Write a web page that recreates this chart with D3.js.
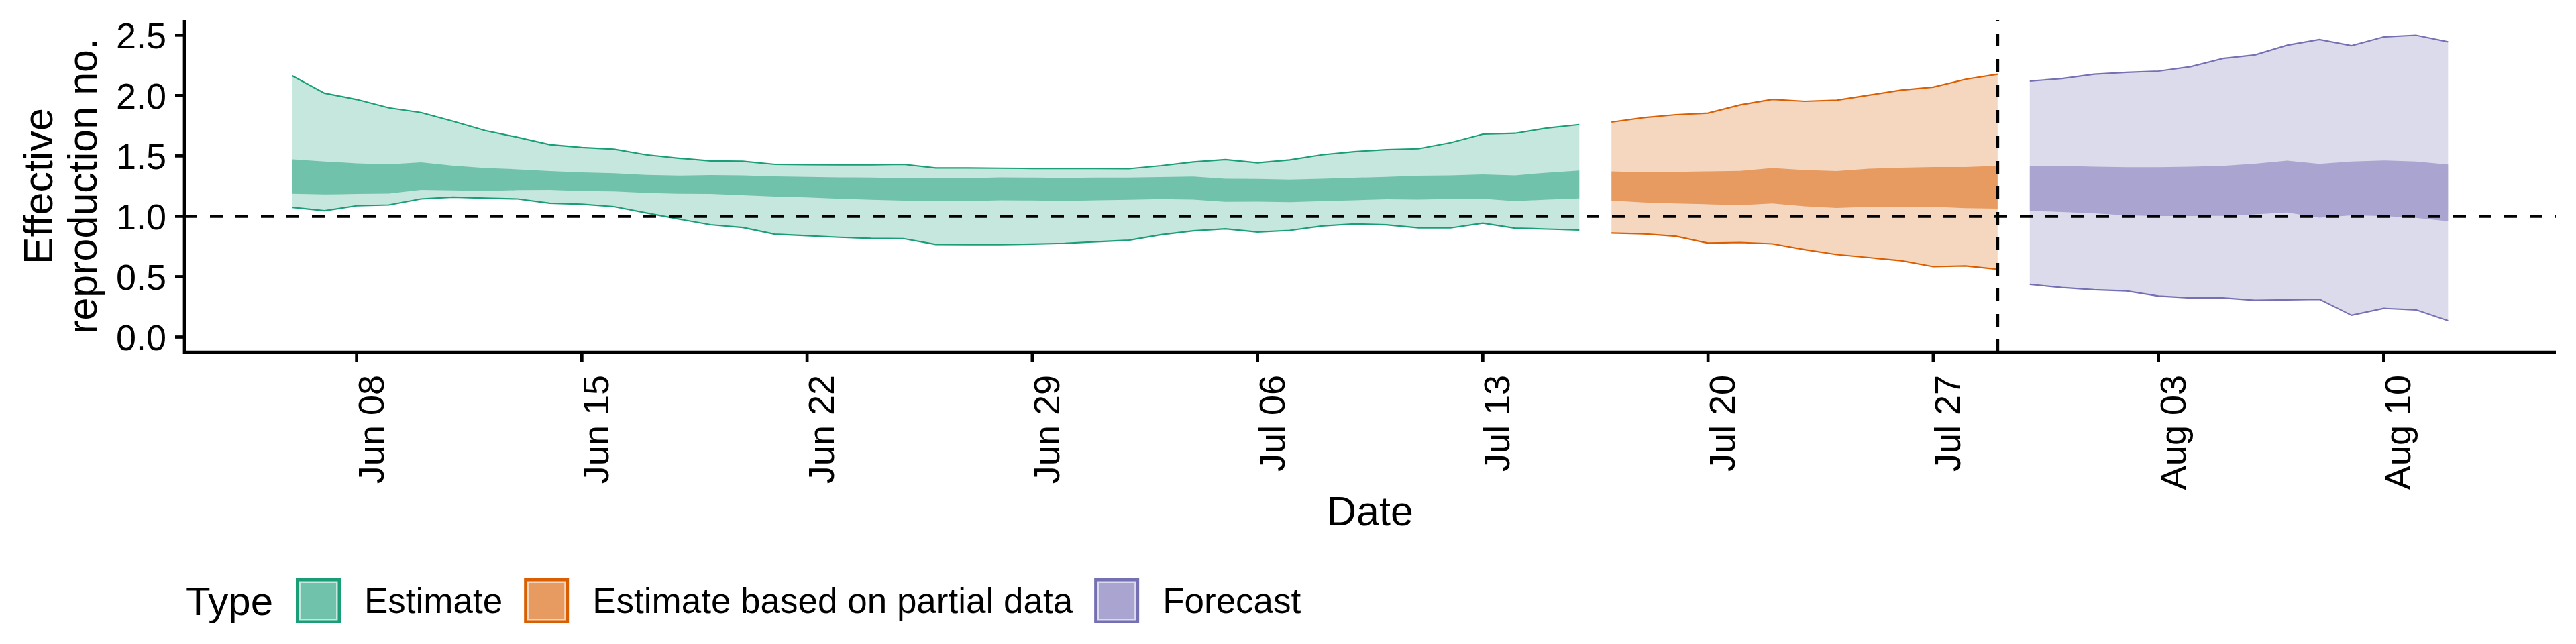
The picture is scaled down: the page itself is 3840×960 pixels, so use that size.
<!DOCTYPE html>
<html>
<head>
<meta charset="utf-8">
<script src="https://cdn.jsdelivr.net/npm/d3@7"></script>
<style>
  body { margin: 0; background: #fff; }
  text { font-family: "Liberation Sans", Arial, Helvetica, sans-serif; fill: #000; }
</style>
</head>
<body>
<script>
// ---- data ----
const types = ['Estimate', 'Estimate based on partial data', 'Forecast']
const colours = ['#1B9E77', '#D95F02', '#7570B3']
const startDates = ['2020-06-06', '2020-07-17', '2020-07-30']

// Estimate: Jun 06 - Jul 16
const estUpper90 = [2.163, 2.019, 1.967, 1.898, 1.859, 1.787, 1.709, 1.654, 1.593, 1.570,
                    1.556, 1.509, 1.481, 1.458, 1.456, 1.430, 1.428, 1.426, 1.426, 1.430,
                    1.400, 1.400, 1.398, 1.396, 1.396, 1.396, 1.394, 1.419, 1.450, 1.470,
                    1.443, 1.467, 1.509, 1.535, 1.552, 1.559, 1.609, 1.680, 1.687, 1.731, 1.759]
const estLower90 = [1.074, 1.046, 1.087, 1.094, 1.144, 1.159, 1.150, 1.144, 1.109, 1.100,
                    1.080, 1.028, 0.978, 0.930, 0.907, 0.852, 0.839, 0.826, 0.817, 0.815,
                    0.767, 0.765, 0.765, 0.770, 0.776, 0.789, 0.802, 0.848, 0.880, 0.896,
                    0.870, 0.883, 0.920, 0.937, 0.930, 0.904, 0.904, 0.943, 0.902, 0.894, 0.887]
const estUpper50 = [1.472, 1.454, 1.439, 1.430, 1.446, 1.419, 1.400, 1.389, 1.374, 1.363,
                    1.357, 1.343, 1.337, 1.341, 1.339, 1.330, 1.326, 1.322, 1.320, 1.315,
                    1.313, 1.315, 1.322, 1.320, 1.317, 1.320, 1.320, 1.324, 1.328, 1.311,
                    1.309, 1.304, 1.311, 1.319, 1.326, 1.335, 1.339, 1.346, 1.339, 1.361, 1.378]
const estLower50 = [1.187, 1.181, 1.185, 1.189, 1.219, 1.215, 1.209, 1.217, 1.219, 1.209,
                    1.207, 1.194, 1.187, 1.185, 1.174, 1.163, 1.156, 1.146, 1.137, 1.130,
                    1.126, 1.126, 1.133, 1.131, 1.128, 1.133, 1.137, 1.143, 1.139, 1.120,
                    1.122, 1.117, 1.126, 1.133, 1.141, 1.139, 1.144, 1.146, 1.126, 1.139, 1.148]

// Estimate based on partial data: Jul 17 - Jul 29
const partUpper90 = [1.780, 1.817, 1.841, 1.854, 1.922, 1.968, 1.952, 1.961, 2.003, 2.044, 2.069, 2.134, 2.176]
const partLower90 = [0.861, 0.854, 0.835, 0.778, 0.783, 0.772, 0.724, 0.683, 0.658, 0.632, 0.583, 0.589, 0.562]
const partUpper50 = [1.372, 1.363, 1.367, 1.372, 1.376, 1.400, 1.383, 1.374, 1.394, 1.402, 1.408, 1.408, 1.417]
const partLower50 = [1.130, 1.115, 1.107, 1.100, 1.093, 1.107, 1.083, 1.069, 1.079, 1.079, 1.079, 1.068, 1.064]

// Forecast: Jul 30 - Aug 12
const fcUpper90 = [2.119, 2.140, 2.176, 2.191, 2.202, 2.239, 2.307, 2.336, 2.416, 2.463, 2.412, 2.485, 2.499, 2.444]
const fcLower90 = [0.437, 0.410, 0.392, 0.382, 0.339, 0.324, 0.324, 0.305, 0.309, 0.313, 0.181, 0.238, 0.226, 0.136]
const fcUpper50 = [1.417, 1.417, 1.411, 1.406, 1.406, 1.410, 1.418, 1.436, 1.460, 1.434, 1.454, 1.462, 1.454, 1.428]
const fcLower50 = [1.045, 1.036, 1.024, 1.008, 1.003, 1.002, 1.004, 1.016, 1.032, 0.989, 1.008, 1.002, 0.987, 0.959]

const xTickDates = ['2020-06-08', '2020-06-15', '2020-06-22', '2020-06-29', '2020-07-06',
                    '2020-07-13', '2020-07-20', '2020-07-27', '2020-08-03', '2020-08-10']
const xTickLabels = ['Jun 08', 'Jun 15', 'Jun 22', 'Jun 29', 'Jul 06',
                     'Jul 13', 'Jul 20', 'Jul 27', 'Aug 03', 'Aug 10']
const yTicks = [0, 0.5, 1, 1.5, 2, 2.5]
const yTickLabels = ['0.0', '0.5', '1.0', '1.5', '2.0', '2.5']

// ---- layout ----
const width = 3840
const height = 960
const panel = {left: 275, right: 3810, top: 30, bottom: 525}
const parseDate = d3.utcParse('%Y-%m-%d')

const series = [
    {upper90: estUpper90, lower90: estLower90, upper50: estUpper50, lower50: estLower50},
    {upper90: partUpper90, lower90: partLower90, upper50: partUpper50, lower50: partLower50},
    {upper90: fcUpper90, lower90: fcLower90, upper50: fcUpper50, lower50: fcLower50}
]
series.forEach(function(s, k) {
    s.type = types[k]
    s.colour = colours[k]
    const start = parseDate(startDates[k])
    s.rows = s.upper90.map(function(v, i) {
        return {date: d3.utcDay.offset(start, i), u90: v, l90: s.lower90[i], u50: s.upper50[i], l50: s.lower50[i]}
    })
})

const allRows = series.flatMap(s => s.rows)
const dateExtent = d3.extent(allRows, d => d.date)
const dPad = (dateExtent[1] - dateExtent[0]) * 0.05
const yMax = d3.max(allRows, d => d.u90)
const yPad = yMax * 0.05

const x = d3.scaleUtc()
    .domain([new Date(+dateExtent[0] - dPad), new Date(+dateExtent[1] + dPad)])
    .range([panel.left, panel.right])
const y = d3.scaleLinear()
    .domain([0 - yPad, yMax + yPad])
    .range([panel.bottom, panel.top])

const svg = d3.select('body')
    .append('svg')
    .attr('width', width)
    .attr('height', height)

svg.append('rect').attr('width', width).attr('height', height).attr('fill', '#fff')

// ---- ribbons ----
const area90 = d3.area().x(d => x(d.date)).y0(d => y(d.l90)).y1(d => y(d.u90))
const area50 = d3.area().x(d => x(d.date)).y0(d => y(d.l50)).y1(d => y(d.u50))
const upLine = d3.line().x(d => x(d.date)).y(d => y(d.u90))
const loLine = d3.line().x(d => x(d.date)).y(d => y(d.l90))

const bands = svg.append('g')
series.forEach(function(s) {
    bands.append('path')
        .attr('d', area90(s.rows))
        .attr('fill', s.colour)
        .attr('fill-opacity', 0.25)
    bands.append('path')
        .attr('d', upLine(s.rows))
        .attr('fill', 'none')
        .attr('stroke', s.colour)
        .attr('stroke-width', 2.2)
    bands.append('path')
        .attr('d', loLine(s.rows))
        .attr('fill', 'none')
        .attr('stroke', s.colour)
        .attr('stroke-width', 2.2)
})
series.forEach(function(s) {
    bands.append('path')
        .attr('d', area50(s.rows))
        .attr('fill', s.colour)
        .attr('fill-opacity', 0.5)
})

// ---- reference lines ----
svg.append('line')
    .attr('x1', panel.left).attr('x2', panel.right)
    .attr('y1', y(1)).attr('y2', y(1))
    .attr('stroke', '#000')
    .attr('stroke-width', 4.7)
    .attr('stroke-dasharray', '19 19')

const lastPartial = series[1].rows[series[1].rows.length - 1].date
svg.append('line')
    .attr('x1', x(lastPartial)).attr('x2', x(lastPartial))
    .attr('y1', panel.bottom).attr('y2', panel.top)
    .attr('stroke', '#000')
    .attr('stroke-width', 4.7)
    .attr('stroke-dasharray', '19 19')

// ---- axes ----
const axes = svg.append('g')
axes.append('line')
    .attr('x1', panel.left).attr('x2', panel.left)
    .attr('y1', panel.top).attr('y2', panel.bottom + 2)
    .attr('stroke', '#000').attr('stroke-width', 4.7)
axes.append('line')
    .attr('x1', panel.left - 2).attr('x2', panel.right)
    .attr('y1', panel.bottom).attr('y2', panel.bottom)
    .attr('stroke', '#000').attr('stroke-width', 4.7)

axes.selectAll('.ytick')
    .data(yTicks)
    .enter()
    .append('line')
    .attr('x1', panel.left - 14).attr('x2', panel.left)
    .attr('y1', d => y(d)).attr('y2', d => y(d))
    .attr('stroke', '#000').attr('stroke-width', 4.7)

axes.selectAll('.ylab')
    .data(yTicks)
    .enter()
    .append('text')
    .attr('x', panel.left - 27)
    .attr('y', d => y(d))
    .attr('dy', '0.36em')
    .attr('text-anchor', 'end')
    .style('font-size', '54px')
    .text((d, i) => yTickLabels[i])

const tickDates = xTickDates.map(parseDate)
axes.selectAll('.xtick')
    .data(tickDates)
    .enter()
    .append('line')
    .attr('x1', d => x(d)).attr('x2', d => x(d))
    .attr('y1', panel.bottom).attr('y2', panel.bottom + 15)
    .attr('stroke', '#000').attr('stroke-width', 4.7)

axes.selectAll('.xlab')
    .data(tickDates)
    .enter()
    .append('text')
    .attr('transform', d => 'translate(' + (x(d) + 40) + ',' + (panel.bottom + 34) + ') rotate(-90)')
    .attr('text-anchor', 'end')
    .style('font-size', '54px')
    .text((d, i) => xTickLabels[i])

// axis titles
svg.append('text')
    .attr('x', (panel.left + panel.right) / 2)
    .attr('y', 783)
    .attr('text-anchor', 'middle')
    .style('font-size', '61px')
    .text('Date')

const yMid = (panel.top + panel.bottom) / 2
svg.append('text')
    .attr('transform', 'translate(78,' + yMid + ') rotate(-90)')
    .attr('text-anchor', 'middle')
    .style('font-size', '61px')
    .text('Effective')
svg.append('text')
    .attr('transform', 'translate(144,' + yMid + ') rotate(-90)')
    .attr('text-anchor', 'middle')
    .style('font-size', '61px')
    .text('reproduction no.')

// ---- legend ----
const legend = svg.append('g')
legend.append('text')
    .attr('x', 277)
    .attr('y', 917)
    .style('font-size', '60px')
    .text('Type')

let keyX = 441
const keyY = 862
const keySize = 67
series.forEach(function(s) {
    legend.append('rect')
        .attr('x', keyX + 2.25).attr('y', keyY + 2.25)
        .attr('width', keySize - 4.5).attr('height', keySize - 4.5)
        .attr('fill', s.colour).attr('fill-opacity', 0.25)
        .attr('stroke', s.colour).attr('stroke-width', 4.5)
    legend.append('rect')
        .attr('x', keyX + 7).attr('y', keyY + 7)
        .attr('width', keySize - 14).attr('height', keySize - 14)
        .attr('fill', s.colour).attr('fill-opacity', 0.5)
    const label = legend.append('text')
        .attr('x', keyX + keySize + 35)
        .attr('y', 914)
        .style('font-size', '53px')
        .text(s.type)
    keyX = keyX + keySize + 35 + label.node().getComputedTextLength() + 32
})
</script>
</body>
</html>
